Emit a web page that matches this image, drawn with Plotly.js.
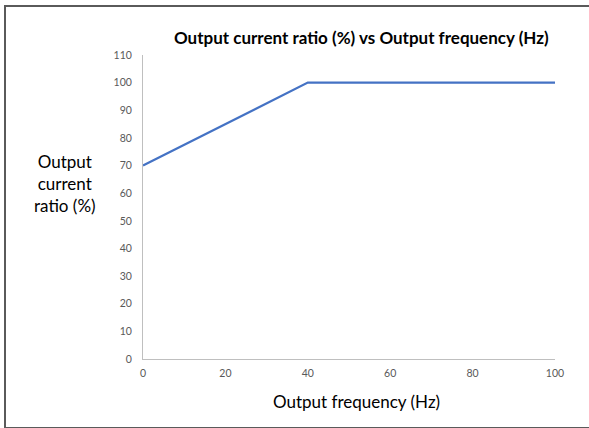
<!DOCTYPE html>
<html>
<head>
<meta charset="utf-8">
<script src="https://cdn.plot.ly/plotly-3.0.1.min.js"></script>
<style>
  html, body { margin: 0; padding: 0; background: #fff; }
  #frame { position: absolute; left: 4px; top: 5px; width: 600px; height: 420px;
           border-left: 2px solid #5a5a5a; border-top: 2px solid #5a5a5a; border-bottom: 2px solid #5a5a5a; }
  #chart { position: absolute; left: 0; top: 0; width: 589px; height: 428px; }
</style>
</head>
<body>
<div id="frame"></div>
<div id="chart"></div>
<script>
const frequencyHz = [0, 20, 40, 60, 80, 100];
const currentRatioPct = [70, 85, 100, 100, 100, 100];
const xTickVals = [0, 20, 40, 60, 80, 100];
const yTickVals = [0, 10, 20, 30, 40, 50, 60, 70, 80, 90, 100, 110];

const font = "Lato, 'Open Sans', 'Liberation Sans', sans-serif";

const trace = {
  x: frequencyHz,
  y: currentRatioPct,
  type: 'scatter',
  mode: 'lines',
  line: { color: '#4472C4', width: 2.2 },
  hoverinfo: 'skip'
};

const layout = {
  width: 589,
  height: 428,
  margin: { l: 143, r: 34, t: 55, b: 69 },
  paper_bgcolor: 'rgba(0,0,0,0)',
  plot_bgcolor: 'rgba(0,0,0,0)',
  showlegend: false,
  font: { family: font, color: '#595959' },
  title: {
    text: '<b>Output current ratio (%) vs Output frequency (Hz)</b>',
    font: { family: font, size: 17, color: '#000000' },
    x: 0.53, xref: 'paper', xanchor: 'center',
    y: 0.91, yref: 'container', yanchor: 'middle'
  },
  xaxis: {
    range: [0, 100],
    tickvals: xTickVals,
    ticktext: xTickVals.map(String),
    showgrid: false,
    zeroline: false,
    showline: true,
    linecolor: '#BFBFBF',
    linewidth: 1,
    ticks: '',
    tickfont: { family: font, size: 10.5, color: '#595959' },
    ticklabelstandoff: 4,
    fixedrange: true
  },
  yaxis: {
    range: [0, 110],
    tickvals: yTickVals,
    ticktext: yTickVals.map(String),
    showgrid: false,
    zeroline: false,
    showline: true,
    linecolor: '#BFBFBF',
    linewidth: 1,
    ticks: '',
    tickfont: { family: font, size: 10.5, color: '#595959' },
    ticklabelstandoff: 8,
    fixedrange: true
  },
  annotations: [{
    text: 'Output<br>current<br>ratio (%)',
    xref: 'paper', yref: 'paper',
    x: -0.19, y: 0.576,
    xanchor: 'center', yanchor: 'middle',
    showarrow: false,
    align: 'center',
    font: { family: font, size: 17, color: '#000000' }
  }, {
    text: 'Output frequency (Hz)',
    xref: 'paper', yref: 'paper',
    x: 0.519, y: -0.141,
    xanchor: 'center', yanchor: 'middle',
    showarrow: false,
    font: { family: font, size: 17, color: '#000000' }
  }]
};

Plotly.newPlot('chart', [trace], layout, { displayModeBar: false, staticPlot: true });
</script>
</body>
</html>
